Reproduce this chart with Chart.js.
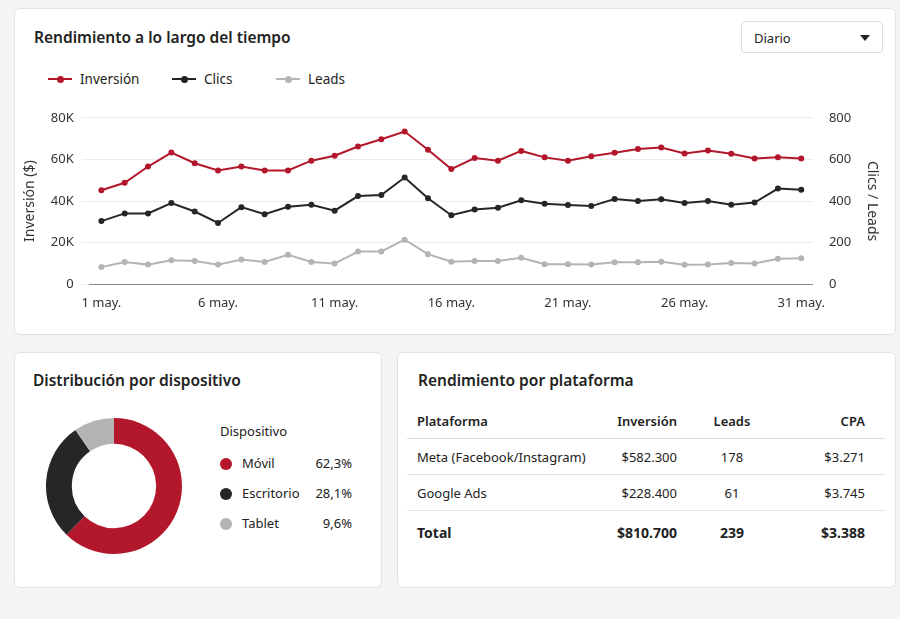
<!DOCTYPE html>
<html><head><meta charset="utf-8">
<script src="https://cdn.jsdelivr.net/npm/chart.js@4"></script>
<style>
body{margin:0;background:#f4f4f4;font-family:"Noto Sans",sans-serif;color:#222;width:900px;height:619px;position:relative;overflow:hidden}
.card{position:absolute;background:#fff;border:1px solid #e2e2e2;border-radius:6px}
h2{position:absolute;margin:0;font-size:15.5px;font-weight:600}
.leg{position:absolute;font-size:13.5px;display:flex;align-items:center}
.sw{display:inline-block;width:24px;height:2px;position:relative;margin-right:8px}
.sw i{position:absolute;left:9px;top:-2.5px;width:7px;height:7px;border-radius:50%;background:inherit}
.sel{position:absolute;left:741px;top:21px;width:142px;height:32px;border:1px solid #ddd;border-radius:4px;box-sizing:border-box;font-size:13px;padding:7px 12px}
.sel:after{content:"";position:absolute;right:12px;top:13px;border:5px solid transparent;border-top:6px solid #222}
table{position:absolute;left:407px;top:403px;width:478px;border-collapse:collapse;font-size:13px;table-layout:fixed}
td{height:35px;border-bottom:1px solid #e2e2e2;padding:0}
tr.h td{font-weight:600;border-bottom:1px solid #ddd}
tr.t td{font-weight:700;font-size:14px;border-bottom:none;height:42px}
.dl{position:absolute;left:220px;font-size:13px}
.dot{display:inline-block;width:12px;height:12px;border-radius:50%;margin-right:10px;vertical-align:-2px}
</style></head><body>
<div class="card" style="left:14px;top:8px;width:880px;height:325px"></div>
<div class="card" style="left:14px;top:352px;width:366px;height:234px"></div>
<div class="card" style="left:397px;top:352px;width:497px;height:234px"></div>
<h2 style="left:34px;top:26px">Rendimiento a lo largo del tiempo</h2>
<div class="sel">Diario</div>
<div class="leg" style="left:48px;top:70px"><span class="sw" style="background:#b3172b"><i></i></span>Inversión</div>
<div class="leg" style="left:172px;top:70px"><span class="sw" style="background:#222"><i></i></span>Clics</div>
<div class="leg" style="left:276px;top:70px"><span class="sw" style="background:#b4b4b4"><i></i></span>Leads</div>
<div style="position:absolute;left:18px;top:102px;width:866px;height:212px"><canvas id="line"></canvas></div>
<h2 style="left:33px;top:369px">Distribución por dispositivo</h2>
<div style="position:absolute;left:46px;top:418px;width:136px;height:136px"><canvas id="donut"></canvas></div>
<div class="dl" style="top:422px">Dispositivo</div>
<div id="dleg"></div>
<h2 style="left:418px;top:369px">Rendimiento por plataforma</h2>
<table id="tbl"><colgroup><col style="width:200px"><col style="width:70px"><col style="width:110px"><col style="width:98px"></colgroup></table>
<script>
const days = Array.from({length: 31}, (_, i) => (i + 1) + ' may.');
const inversion = [45.2,48.8,56.6,63.3,58.2,54.7,56.6,54.7,54.7,59.4,61.8,66.2,69.7,73.4,64.7,55.4,
  60.7,59.4,64.1,61,59.4,61.5,63.2,65,65.7,62.9,64.3,62.7,60.5,61,60.5].map(v => v * 1000);
const clics = [304,341,341,391,350,295,371,337,373,382,354,424,429,513,414,332,
  360,368,404,387,381,376,410,401,409,391,401,382,393,460,454];
const leads = [83,108,95,116,112,95,120,108,142,108,100,158,158,215,145,109,
  112,112,128,97,97,95,106,106,109,94,95,103,100,123,125];

const devices = ['Móvil', 'Escritorio', 'Tablet'];
const deviceShare = [62.3, 28.1, 9.6];
const deviceColors = ['#b3172b', '#262626', '#b4b4b4'];

const tableHead = ['Plataforma', 'Inversión', 'Leads', 'CPA'];
const platforms = ['Meta (Facebook/Instagram)', 'Google Ads', 'Total'];
const platInv = ['$582.300', '$228.400', '$810.700'];
const platLeads = [178, 61, 239];
const platCpa = ['$3.271', '$3.745', '$3.388'];

Chart.defaults.font.family = '"Noto Sans", sans-serif';
Chart.defaults.color = '#333';

const ds = (label, data, color, axis) => ({
  label, data, borderColor: color, backgroundColor: color, yAxisID: axis,
  borderWidth: 2, pointRadius: 2, tension: 0
});
const tickLabels = (v, i) => (i % 5 === 0 ? days[i] : '');

new Chart(document.getElementById('line'), {
  type: 'line',
  data: {
    labels: days,
    datasets: [ds('Inversión', inversion, '#b3172b', 'y'), ds('Clics', clics, '#262626', 'y1'), ds('Leads', leads, '#b4b4b4', 'y1')]
  },
  options: {
    responsive: true, maintainAspectRatio: false, animation: false,
    layout: { padding: { left: 0, right: 0 } },
    plugins: { legend: { display: false } },
    scales: {
      x: { grid: { display: false }, border: { color: '#888' }, offset: true,
        ticks: { autoSkip: false, maxRotation: 0, font: { size: 13 }, callback: tickLabels } },
      y: { min: 0, max: 80000, ticks: { stepSize: 20000, font: { size: 13 }, padding: 8, callback: v => v === 0 ? '0' : v / 1000 + 'K' },
        border: { display: false }, grid: { color: '#ececec' },
        title: { display: true, text: 'Inversión ($)', font: { size: 14 } } },
      y1: { position: 'right', min: 0, max: 800, ticks: { stepSize: 200, font: { size: 13 }, padding: 8 },
        border: { display: false }, grid: { display: false },
        title: { display: true, text: 'Clics / Leads', font: { size: 14 } } }
    }
  }
});

new Chart(document.getElementById('donut'), {
  type: 'doughnut',
  data: { labels: devices, datasets: [{ data: deviceShare, backgroundColor: deviceColors, borderWidth: 0 }] },
  options: { responsive: true, maintainAspectRatio: false, animation: false, cutout: '62%',
    plugins: { legend: { display: false }, tooltip: { enabled: false } } }
});

let dl = '';
devices.forEach((d, i) => {
  dl += `<div class="dl" style="top:${454 + i * 30}px;width:132px"><span class="dot" style="background:${deviceColors[i]}"></span>${d}<span style="position:absolute;right:0">${deviceShare[i].toFixed(1).replace('.', ',')}%</span></div>`;
});
document.getElementById('dleg').innerHTML = dl;

const cell = (i, txt) => {
  const st = ['padding-left:10px', 'text-align:right', 'text-align:center', 'text-align:right;padding-right:20px'][i];
  return `<td style="${st}">${txt}</td>`;
};
let rows = '<tr class="h">' + tableHead.map((h, i) => cell(i, h)).join('') + '</tr>';
platforms.forEach((p, i) => {
  rows += `<tr class="${i === 2 ? 't' : ''}">${cell(0, p)}${cell(1, platInv[i])}${cell(2, platLeads[i])}${cell(3, platCpa[i])}</tr>`;
});
document.getElementById('tbl').insertAdjacentHTML('beforeend', rows);
</script>
</body></html>
